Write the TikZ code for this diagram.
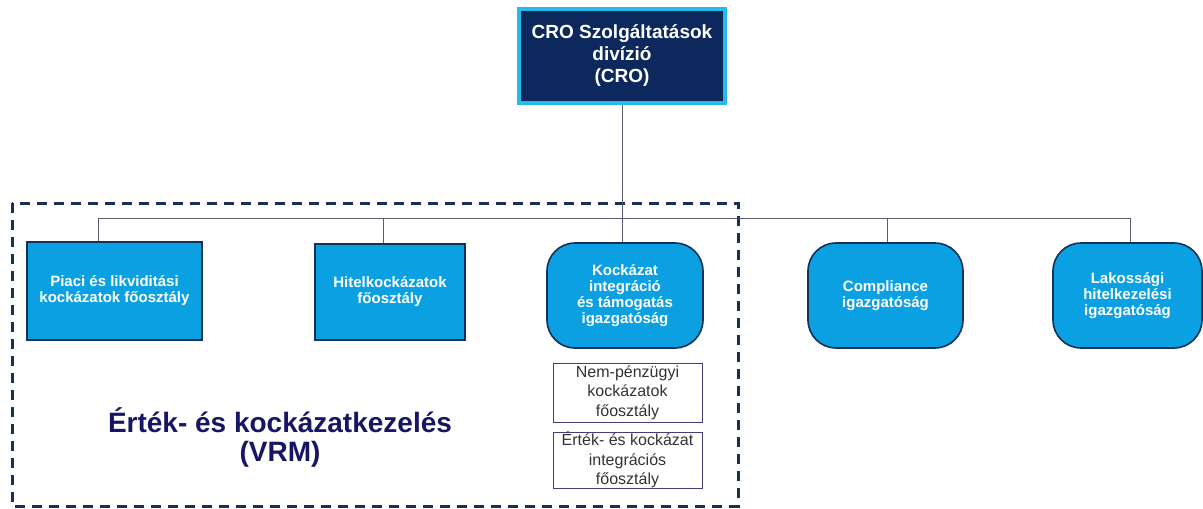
\documentclass[tikz,border=0pt]{standalone}
\usepackage{fontspec}
\setmainfont{Liberation Sans}
\definecolor{boxcyan}{RGB}{10,160,226}
\definecolor{boxedge}{RGB}{22,48,88}
\definecolor{topfill}{RGB}{12,40,92}
\definecolor{topedge}{RGB}{40,185,235}
\definecolor{linec}{RGB}{90,90,115}
\definecolor{vrmtext}{RGB}{22,22,100}
\definecolor{subedge}{RGB}{70,60,120}
\begin{document}
\begin{tikzpicture}[x=1pt,y=-1pt,
  unitbox/.style={draw=boxedge, fill=boxcyan, line width=1.6pt, text=white,
    font=\bfseries\fontsize{15}{16}\selectfont, align=center, inner sep=2pt},
  dirbox/.style={unitbox, rounded corners=28pt, minimum width=155pt, minimum height=105pt},
  subbox/.style={draw=subedge, fill=white, line width=0.7pt, text=black!80,
    font=\fontsize{16}{19.5}\selectfont, align=center, inner sep=0pt,
    minimum width=149pt},
  conn/.style={draw=linec, line width=0.8pt},
  vrmframe/.style={draw=boxedge, line width=3pt, dash pattern=on 10pt off 7pt}
]
\useasboundingbox (0,0) rectangle (1203,509);
% top node
\node[draw=topedge, fill=topfill, line width=3.5pt, text=white,
  font=\bfseries\fontsize{19}{22}\selectfont, align=center, inner sep=1pt,
  minimum width=206pt, minimum height=94pt] (cro) at (622,56)
  {CRO Szolgáltatások\\divízió\\(CRO)};
% frame
\draw[vrmframe] (12,203) rectangle (738,506);
% units
\node[unitbox, minimum width=175pt, minimum height=98pt] (piaci) at (114.5,291)
  {Piaci és likviditási\\kockázatok főosztály};
\node[unitbox, minimum width=150pt, minimum height=96pt] (hitel) at (390,292)
  {Hitelkockázatok\\főosztály};
\node[dirbox, minimum width=156pt] (kock) at (625,295.5)
  {Kockázat\\integráció\\és támogatás\\igazgatóság};
\node[dirbox] (comp) at (885.5,295.5) {Compliance\\igazgatóság};
\node[dirbox, minimum width=149pt] (lak) at (1127.5,295.5)
  {Lakossági\\hitelkezelési\\igazgatóság};
\node[subbox, minimum height=59pt] (nem) at (627.5,392.5)
  {Nem-pénzügyi\\kockázatok\\főosztály};
\node[subbox, minimum height=56pt] (ert) at (627.5,460)
  {Érték- és kockázat\\integrációs\\főosztály};
% VRM label
\node[text=vrmtext, font=\bfseries\fontsize{28}{29}\selectfont, align=center]
  (vrm) at (280,437) {Érték- és kockázatkezelés\\(VRM)};
% connectors
\coordinate (j1) at (98,218);
\coordinate (j2) at (383,218);
\coordinate (j3) at (622,218);
\coordinate (j4) at (887,218);
\coordinate (j5) at (1130,218);
\draw[conn] (cro.south) -- (j3);
\draw[conn] (j1) -- (j5);
\draw[conn] (j1) -- (j1 |- piaci.north);
\draw[conn] (j2) -- (j2 |- hitel.north);
\draw[conn] (j3) -- (j3 |- kock.north);
\draw[conn] (j4) -- (j4 |- comp.north);
\draw[conn] (j5) -- (j5 |- lak.north);
\end{tikzpicture}
\end{document}
